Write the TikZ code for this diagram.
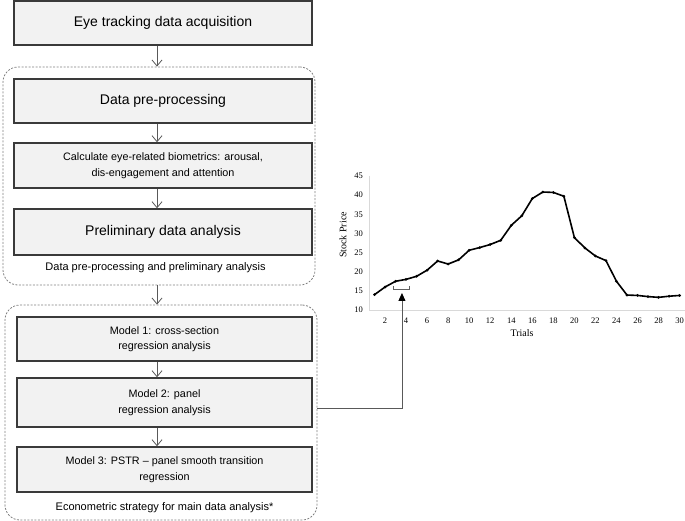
\documentclass[tikz,border=0pt]{standalone}
\usepackage{fontspec}
\setmainfont{Liberation Sans}
\newfontfamily\chartfont{Liberation Serif}
\usetikzlibrary{arrows.meta}
\definecolor{boxfill}{HTML}{F2F2F2}
\definecolor{boxline}{HTML}{3A3A3A}
\definecolor{arrowc}{HTML}{595959}
\definecolor{dashc}{HTML}{808080}
\definecolor{axisc}{HTML}{D9D9D9}
\definecolor{bracketc}{HTML}{606060}
\begin{document}
\begin{tikzpicture}[x=1pt,y=-1pt,
  stagebox/.style={draw=boxline, line width=1.4pt, fill=boxfill, inner sep=0pt, align=center, minimum width=298pt},
  bigtxt/.style={font=\fontsize{14}{17}\selectfont},
  smalltxt/.style={font=\fontsize{10.8}{15.5}\selectfont},
  groupbox/.style={draw=dashc, dash pattern=on 2pt off 1.5pt, line width=0.8pt, rounded corners=15pt, inner sep=0pt},
  flow/.style={draw=arrowc, line width=0.8pt, -{Straight Barb[length=6pt,width=10pt]}},
  grouplabel/.style={font=\fontsize{11}{13}\selectfont, inner sep=0pt},
  ticklab/.style={font=\chartfont\fontsize{8.5}{10}\selectfont, inner sep=0pt},
  axislab/.style={font=\chartfont\fontsize{10}{12}\selectfont, inner sep=0pt},
  pricecurve/.style={draw=black, line width=1.6pt, line join=round}
]
\useasboundingbox (0,0) rectangle (685,521);
% group frames
\node[groupbox, minimum width=312pt, minimum height=218pt] (pre) at (159,176) {};
\node[groupbox, minimum width=312pt, minimum height=215pt] (econ) at (161,412.5) {};
% stage boxes
\node[stagebox,bigtxt,minimum height=44pt] (acq) at (163,23) {Eye tracking data acquisition};
\node[stagebox,bigtxt,minimum height=44pt] (prep) at (163,101) {Data pre-processing};
\node[stagebox,smalltxt,minimum height=45pt] (bio) at (163,165.5) {Calculate eye-related biometrics: arousal,\\dis-engagement and attention};
\node[stagebox,bigtxt,minimum height=46pt] (prelim) at (163,232) {Preliminary data analysis};
\node[grouplabel] (prelab) at (155.5,268) {Data pre-processing and preliminary analysis};
\node[stagebox,smalltxt,minimum width=295pt,minimum height=44pt] (m1) at (164.5,339) {Model 1: cross-section\\regression analysis};
\node[stagebox,smalltxt,minimum width=295pt,minimum height=49pt] (m2) at (164.5,402.5) {Model 2: panel\\regression analysis};
\node[stagebox,smalltxt,minimum width=295pt,minimum height=45pt] (m3) at (164.5,469.5) {Model 3: PSTR -- panel smooth transition\\regression};
\node[grouplabel] (econlab) at (164.5,508) {Econometric strategy for main data analysis*};
% flow arrows
\coordinate (ax) at (157,0);
\draw[flow] (acq.south -| ax) -- (pre.north -| ax);
\draw[flow] (prep.south -| ax) -- (bio.north -| ax);
\draw[flow] (bio.south -| ax) -- (prelim.north -| ax);
\draw[flow] (pre.south -| ax) -- (econ.north -| ax);
\draw[flow] (m1.south -| ax) -- (m2.north -| ax);
\draw[flow] (m2.south -| ax) -- (m3.north -| ax);
% chart
\begin{scope}[shift={(363.98pt,-348.3pt)}, x=10.52pt, y=3.83pt]
  \draw[axisc, line width=0.8pt] (0.48,45) -- (0.48,10) -- (30.5,10);
  \draw[pricecurve] plot coordinates {(1,14) (2,16) (3,17.5) (4,18) (5,18.8) (6,20.4) (7,22.8) (8,22) (9,23.1) (10,25.6) (11,26.3) (12,27.1) (13,28.2) (14,32.1) (15,34.6) (16,39.1) (17,40.8) (18,40.7) (19,39.7) (20,28.9) (21,26.2) (22,24.1) (23,22.9) (24,17.5) (25,13.9) (26,13.8) (27,13.5) (28,13.3) (29,13.6) (30,13.8)};
  \foreach \t/\v in {1/14,2/16,3/17.5,4/18,5/18.8,6/20.4,7/22.8,8/22,9/23.1,10/25.6,11/26.3,12/27.1,13/28.2,14/32.1,15/34.6,16/39.1,17/40.8,18/40.7,19/39.7,20/28.9,21/26.2,22/24.1,23/22.9,24/17.5,25/13.9,26/13.8,27/13.5,28/13.3,29/13.6,30/13.8}
    \fill (\t,\v) circle[radius=1.5pt];
  \foreach \t in {2,4,...,30}
    \node[ticklab] at ([yshift=-11pt]\t,10) {\t};
  \foreach \v in {10,15,...,45}
    \node[ticklab, anchor=east] at ([xshift=-6pt]0.48,\v) {\v};
  \node[axislab, rotate=90] (ylab) at (-1.99,29.6) {Stock Price};
  \node[axislab] (xlab) at (15.02,4.0) {Trials};
  \draw[bracketc, line width=0.8pt] (2.76,16.3) -- (2.76,15.5) -- (4.28,15.5) -- (4.28,16.3);
  \coordinate (brk) at (3.61,14.44);
\end{scope}
\draw[draw=arrowc, line width=0.9pt, -{Triangle[length=8pt,width=7pt,color=black]}] ([yshift=4.5pt]econ.east) -| (brk);
\end{tikzpicture}
\end{document}
